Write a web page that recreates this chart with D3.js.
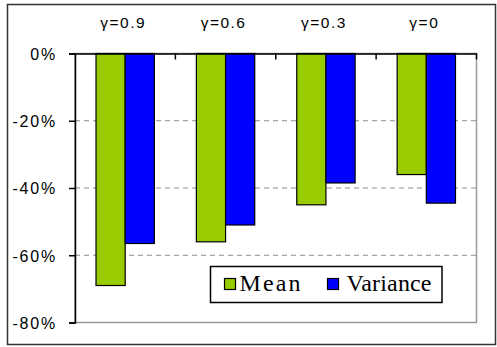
<!DOCTYPE html>
<html>
<head>
<meta charset="utf-8">
<script src="https://cdn.jsdelivr.net/npm/d3@7/dist/d3.min.js"></script>
<style>
  html, body { margin: 0; padding: 0; background: #fff; }
  svg { display: block; }
</style>
</head>
<body>
<svg id="chart" width="497" height="347"></svg>
<script>
// Relative change for each discount setting
const categories = ["γ=0.9", "γ=0.6", "γ=0.3", "γ=0"];
const seriesNames = ["Mean", "Variance"];
const meanValues = [-0.69, -0.56, -0.45, -0.36];
const varianceValues = [-0.565, -0.51, -0.385, -0.445];
const yTicks = [0, -0.2, -0.4, -0.6, -0.8];
const gridTicks = [-0.2, -0.4, -0.6];
const colors = ["#99cc00", "#0000ff"];

const seriesValues = [meanValues, varianceValues];
const rows = categories.map((c, i) => ({
  cat: c,
  vals: seriesNames.map((s, j) => ({ series: s, idx: j, value: seriesValues[j][i] }))
}));

const svg = d3.select("#chart");

// outer frame
svg.append("rect")
  .attr("x", 7.5).attr("y", 4.5)
  .attr("width", 488).attr("height", 340)
  .attr("fill", "#fff")
  .attr("stroke", "#333").attr("stroke-width", 1.5);

const plot = { left: 75, right: 476.5, top: 53.5, bottom: 322.5 };

const x = d3.scaleBand().domain(categories).range([plot.left, plot.right]).padding(0);
const xs = d3.scaleBand().domain(seriesNames).range([0, x.bandwidth()])
  .paddingInner(0).paddingOuter(0.72);
const y = d3.scaleLinear().domain([0, -0.8]).range([plot.top, plot.bottom]);

// plot area border
svg.append("rect")
  .attr("x", plot.left).attr("y", plot.top)
  .attr("width", plot.right - plot.left).attr("height", plot.bottom - plot.top)
  .attr("fill", "none").attr("stroke", "#9a9a9a").attr("stroke-width", 1.5);

// dashed gridlines
svg.append("g").selectAll("line").data(gridTicks).join("line")
  .attr("x1", plot.left).attr("x2", plot.right)
  .attr("y1", d => y(d)).attr("y2", d => y(d))
  .attr("stroke", "#8c8c8c").attr("stroke-width", 1.2)
  .attr("stroke-dasharray", "5,4");

// bars
const groups = svg.append("g").selectAll("g").data(rows).join("g")
  .attr("transform", d => `translate(${x(d.cat)},0)`);
groups.selectAll("rect").data(d => d.vals).join("rect")
  .attr("x", d => xs(d.series))
  .attr("y", y(0))
  .attr("width", xs.bandwidth())
  .attr("height", d => y(d.value) - y(0))
  .attr("fill", d => colors[d.idx])
  .attr("stroke", "#000").attr("stroke-width", 1.2);

// y axis
const yAxis = svg.append("g")
  .attr("transform", `translate(${plot.left},0)`)
  .call(d3.axisLeft(y).tickValues(yTicks).tickSize(6).tickPadding(0)
    .tickFormat(d => Math.round(d * 100) + "%"));
yAxis.select(".domain").attr("stroke", "#000").attr("stroke-width", 1.5);
yAxis.selectAll(".tick line").attr("stroke", "#000").attr("stroke-width", 1.5);
yAxis.selectAll(".tick text")
  .attr("x", -18).attr("dy", "0.36em")
  .attr("fill", "#000")
  .style("font-family", "'Liberation Sans', Arial, sans-serif")
  .style("font-size", "16px")
  .style("letter-spacing", "1.8px");

// category axis along the zero line
const xAxis = svg.append("g")
  .attr("transform", `translate(0,${y(0)})`)
  .call(d3.axisBottom(x).tickSize(0).tickFormat(""));
xAxis.select(".domain").attr("stroke", "#000").attr("stroke-width", 1.5);
xAxis.selectAll(".tick").remove();
svg.append("g").selectAll("line").data(categories).join("line")
  .attr("x1", d => x(d) + x.bandwidth())
  .attr("x2", d => x(d) + x.bandwidth())
  .attr("y1", y(0)).attr("y2", y(0) + 6)
  .attr("stroke", "#000").attr("stroke-width", 1.5);

// category labels above the plot
svg.append("g").selectAll("text").data(categories).join("text")
  .attr("x", d => x(d) + x.bandwidth() / 2 - 2)
  .attr("y", 28)
  .attr("text-anchor", "middle")
  .style("font-family", "'Liberation Sans', Arial, sans-serif")
  .style("font-size", "15.5px")
  .style("letter-spacing", "1.5px")
  .text(d => d);

// legend
const legend = svg.append("g");
legend.append("rect")
  .attr("x", 210.5).attr("y", 266.5).attr("width", 231.5).attr("height", 36)
  .attr("fill", "#fff").attr("stroke", "#000").attr("stroke-width", 1.5);
const legendItems = [
  { x: 224, tx: 239.5, len: 61 },
  { x: 327, tx: 346.5, len: 85 }
];
seriesNames.forEach((s, i) => {
  legend.append("rect")
    .attr("x", legendItems[i].x + 0.5).attr("y", 278.5)
    .attr("width", 11).attr("height", 11)
    .attr("fill", colors[i]).attr("stroke", "#000").attr("stroke-width", 1.2);
  legend.append("text")
    .attr("x", legendItems[i].tx).attr("y", 291)
    .attr("textLength", legendItems[i].len).attr("lengthAdjust", "spacing")
    .style("font-family", "'Liberation Serif', 'Times New Roman', serif")
    .style("font-size", "24px")
    .text(s);
});
</script>
</body>
</html>
